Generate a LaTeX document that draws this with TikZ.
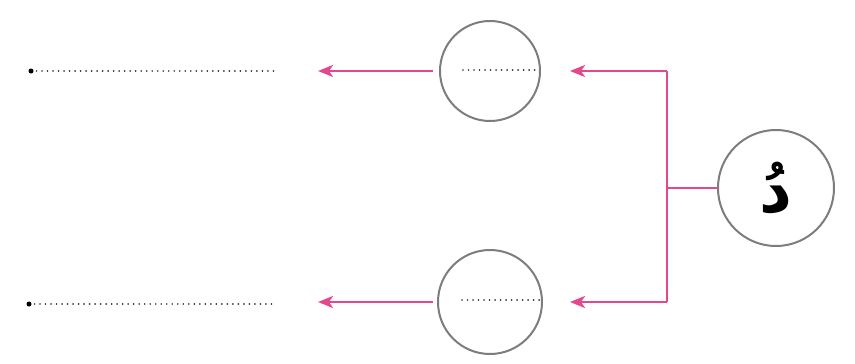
\documentclass[tikz,border=0pt]{standalone}
\usepackage{fontspec}
\newfontfamily\arabicfont[Script=Arabic]{DejaVu Sans}
\TeXXeTstate=1
\usetikzlibrary{arrows.meta}
\definecolor{pinkline}{RGB}{228,72,140}
\definecolor{ringgray}{RGB}{125,125,125}
\tikzset{
  ring/.style={circle,draw=ringgray,line width=2pt,fill=white,inner sep=0pt},
  conn/.style={draw=pinkline,line width=2.6pt},
  arr/.style={conn,-{Stealth[length=15pt,width=12pt,inset=4pt]}},
  dots/.style={draw=black!80,line width=1.8pt,dash pattern=on 0.01pt off 5.5pt,line cap=round},
}
\begin{document}
\begin{tikzpicture}[x=1pt,y=-1pt]
\useasboundingbox (0,0) rectangle (855,364);
\node[ring,minimum size=100pt] (top) at (490,71) {};
\node[ring,minimum size=104pt] (bot) at (490,302) {};
\node[ring,minimum size=116pt] (right) at (776,188) {\raisebox{-4pt}{\arabicfont\fontsize{64}{68}\selectfont\bfseries\beginR دُ\endR}};
\coordinate (j) at (667,188);
\coordinate (jt) at (667,71);
\coordinate (jb) at (667,302);
\coordinate (et) at (570,71);
\coordinate (eb) at (570,302);
\coordinate (st) at (433,71);
\coordinate (sb) at (433,302);
\coordinate (lt) at (318,71);
\coordinate (lb) at (318,302);
\draw[conn] (right.west) -- (j);
\draw[conn] (jt) -- (jb);
\draw[arr] (jt) -- (et);
\draw[arr] (jb) -- (eb);
\draw[arr] (st) -- (lt);
\draw[arr] (sb) -- (lb);
% answer lines
\coordinate (d1a) at (31,71);
\coordinate (d1b) at (276,71);
\coordinate (d2a) at (29,304);
\coordinate (d2b) at (274,304);
\draw[dots] (d1a) -- (d1b);
\draw[dots] (d2a) -- (d2b);
\fill (d1a) circle (2.5pt);
\fill (d2a) circle (2.5pt);
\coordinate (i1a) at (463,70);
\coordinate (i1b) at (540,70);
\coordinate (i2a) at (462,300);
\coordinate (i2b) at (540,300);
\draw[dots] (i1a) -- (i1b);
\draw[dots] (i2a) -- (i2b);
\end{tikzpicture}
\end{document}
